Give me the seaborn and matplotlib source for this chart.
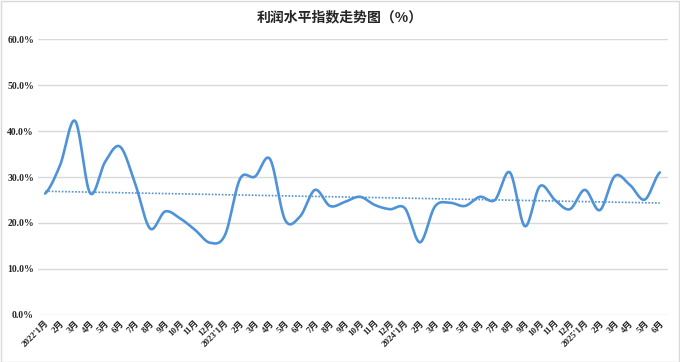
import numpy as np
import pandas as pd
import seaborn as sns
import matplotlib.pyplot as plt
from matplotlib.patches import Rectangle

months = ["2022'1月", "2月", "3月", "4月", "5月", "6月", "7月", "8月", "9月", "10月", "11月", "12月",
          "2023'1月", "2月", "3月", "4月", "5月", "6月", "7月", "8月", "9月", "10月", "11月", "12月",
          "2024'1月", "2月", "3月", "4月", "5月", "6月", "7月", "8月", "9月", "10月", "11月", "12月",
          "2025'1月", "2月", "3月", "4月", "5月", "6月"]
profit = [26.4, 32.6, 42.2, 26.5, 33.3, 36.6, 28.6, 18.8, 22.5, 21.0, 18.5, 15.7,
          17.4, 29.6, 30.1, 33.9, 20.7, 21.4, 27.2, 23.7, 24.6, 25.7, 23.9, 23.0,
          23.2, 15.8, 23.6, 24.4, 23.7, 25.7, 25.0, 31.0, 19.3, 28.0, 25.0, 23.0,
          27.2, 22.8, 30.2, 28.3, 25.1, 31.0]

sns.set_theme(style="white")
plt.rcParams['font.family'] = ['Liberation Serif', 'Noto Sans CJK SC']

x = np.arange(len(profit))
y = np.array(profit)

# Excel style smoothed line (Catmull-Rom through the points)
pts = np.concatenate([[y[0]], y, [y[-1]]])
xs, ys = [], []
for i in range(len(y) - 1):
    t = np.linspace(0, 1, 20, endpoint=False)
    p0, p1, p2, p3 = pts[i], pts[i + 1], pts[i + 2], pts[i + 3]
    seg = 0.5 * ((2 * p1) + (-p0 + p2) * t + (2 * p0 - 5 * p1 + 4 * p2 - p3) * t ** 2
                 + (-p0 + 3 * p1 - 3 * p2 + p3) * t ** 3)
    xs.extend(x[i] + t)
    ys.extend(seg)
xs.append(x[-1])
ys.append(y[-1])
smooth = pd.DataFrame({"x": xs, "y": ys})

coef = np.polyfit(x, y, 1)
trend = pd.DataFrame({"x": x, "y": np.polyval(coef, x)})

fig = plt.figure(figsize=(6.8, 3.62), dpi=100)
ax = fig.add_axes([0.056, 0.130, 0.926, 0.762])
fig.patches.append(Rectangle((0.001, 0.001), 0.997, 0.996, transform=fig.transFigure,
                             fill=False, edgecolor="#d9d9d9", linewidth=1))

sns.lineplot(data=smooth, x="x", y="y", ax=ax, color="#4e93d8", linewidth=1.9)
sns.lineplot(data=trend, x="x", y="y", ax=ax, color="#4e93d8", linewidth=1.2, linestyle=(0, (1, 1)))

ax.set_ylim(0, 60)
ax.set_xlim(-0.47, 41.53)
ax.set_yticks(np.arange(0, 61, 10))
ax.set_yticklabels([f"{v:.1f}%" for v in np.arange(0, 61, 10)], fontsize=7, fontweight="bold")
ax.set_xticks(x)
ax.set_xticklabels(months, rotation=45, ha="right", rotation_mode="anchor", fontsize=6.5, fontweight="bold")
ax.tick_params(axis="both", length=0, pad=3)
ax.grid(axis="y", color="#d9d9d9", linewidth=1)
for s in ax.spines.values():
    s.set_visible(False)
ax.set_xlabel("")
ax.set_ylabel("")
fig.text(0.5, 0.952, "利润水平指数走势图（%）", ha="center", va="center",
         fontsize=10, fontweight="bold", family=['Noto Sans CJK SC', 'DejaVu Sans'])

fig.savefig("out.png", dpi=100)
